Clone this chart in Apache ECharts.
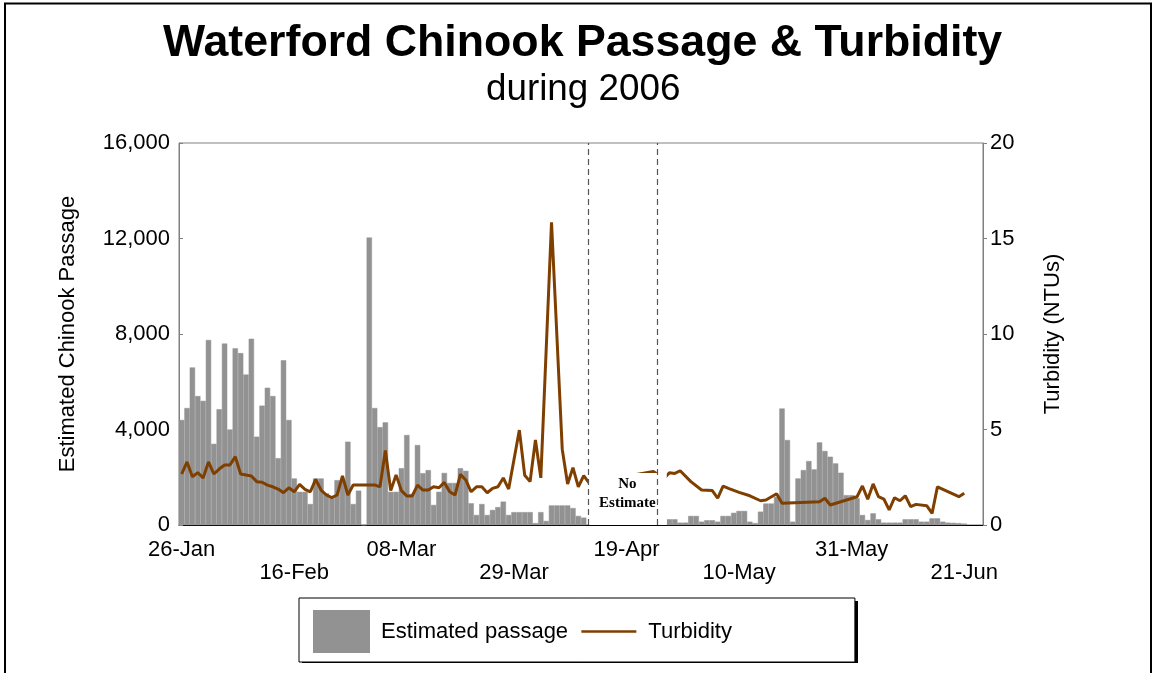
<!DOCTYPE html>
<html>
<head>
<meta charset="utf-8">
<script src="https://cdn.jsdelivr.net/npm/echarts@6/dist/echarts.min.js"></script>
<style>
    html, body { margin: 0; padding: 0; background: #fff; }
    #chart { width: 1156px; height: 673px; }
</style>
</head>
<body>
<div id="chart"></div>
<script>
var FONT = "'Liberation Sans', Arial, Helvetica, sans-serif";
var MONTHS = ["Jan", "Feb", "Mar", "Apr", "May", "Jun", "Jul", "Aug", "Sep", "Oct", "Nov", "Dec"];

// one category per day, 26-Jan-2006 .. 24-Jun-2006
var dayCount = 150;
var categories = [];
for (var i = 0; i < dayCount; i++) {
    var d = new Date(2006, 0, 26 + i);
    var dd = d.getDate();
    categories.push((dd < 10 ? "0" : "") + dd + "-" + MONTHS[d.getMonth()]);
}

var tickLabels = ["26-Jan", "16-Feb", "08-Mar", "29-Mar", "19-Apr", "10-May", "31-May", "21-Jun"];

// estimated chinook passage per day (null = no estimate)
var passage = [
    4400, 4900, 6600, 5400, 5200, 7750, 3400, 4850, 7600, 4000,
    7400, 7200, 6300, 7800, 3700, 5000, 5750, 5400, 2800, 6900,
    4400, 1950, 1390, 1390, 880, 1950, 1950, 1330, 1120, 1880,
    1880, 3490, 880, 1440, 0, 12040, 4900, 4100, 4300, 1390,
    1390, 2380, 3770, 1300, 3350, 2170, 2300, 840, 1390, 2180,
    1760, 1760, 2380, 2270, 910, 420, 880, 420, 630, 750,
    980, 420, 540, 540, 540, 540, 80, 540, 170, 820,
    820, 820, 820, 710, 380, 310, null, null, null, null,
    null, null, null, null, null, null, null, null, null, null,
    null, 240, 240, 100, 100, 380, 380, 140, 200, 200,
    140, 380, 380, 510, 590, 590, 140, 80, 560, 900,
    900, 1180, 4880, 3560, 140, 1950, 2300, 2680, 2330, 3460,
    3100, 2860, 2580, 2190, 1250, 1250, 1120, 420, 210, 490,
    240, 100, 100, 100, 100, 240, 240, 240, 140, 140,
    280, 280, 140, 100, 90, 80, 60, null, null, null
];

// turbidity (NTUs) per day (null = not measured)
var turbidity = [
    2.67, 3.3, 2.53, 2.74, 2.46, 3.3, 2.67, 2.93, 3.14, 3.14,
    3.58, 2.67, 2.62, 2.57, 2.27, 2.24, 2.09, 2.0, 1.88, 1.69,
    1.95, 1.74, 2.13, 1.87, 1.74, 2.39, 1.83, 1.57, 1.43, 1.57,
    2.57, 1.57, 2.09, null, null, null, 2.1, 2.0, 3.9, 1.8,
    2.62, 1.8, 1.52, 1.52, 2.09, 1.83, 1.83, 2.0, 1.95, 2.23,
    1.74, 1.57, 2.65, 2.36, 1.74, 2.0, 2.0, 1.69, 1.92, 2.0,
    2.46, 1.88, null, 4.97, 2.6, 2.27, 4.45, 2.47, null, 15.85,
    null, 3.97, 2.15, 3.0, 2.0, 2.58, 2.2, null, null, null,
    null, null, null, null, null, null, null, null, 2.8, null,
    2.44, 2.74, 2.7, 2.84, null, 2.27, null, 1.83, null, 1.8,
    1.4, 2.04, 1.92, null, 1.71, null, 1.53, null, 1.27, 1.31,
    null, 1.64, 1.14, null, null, null, null, null, null, 1.22,
    1.4, 1.05, null, null, null, null, 1.48, 2.04, 1.35, 2.15,
    1.48, 1.36, 0.79, 1.43, 1.27, 1.53, 0.96, 1.08, null, 1.01,
    0.61, 2.0, null, null, null, 1.48, 1.66, null, null, null
];

// no-estimate window, in day offsets from 26-Jan
var gapStart = 76.3;
var gapEnd = 89.2;
var gapBoxEnd = 91.0;
var gapBoxTop = 2180;

var chart = echarts.init(document.getElementById("chart"));

var option = {
    animation: false,
    textStyle: {
        fontFamily: FONT
    },
    title: [{
        text: "Waterford Chinook Passage & Turbidity",
        left: 163,
        top: 21,
        padding: 0,
        textStyle: {
            fontSize: 44.7,
            fontWeight: "bold",
            color: "#000",
            fontFamily: FONT
        }
    }, {
        text: "during 2006",
        left: 486,
        top: 71,
        padding: 0,
        textStyle: {
            fontSize: 36.8,
            fontWeight: "normal",
            color: "#000",
            fontFamily: FONT
        }
    }],
    legend: {
        left: 299,
        top: 598,
        padding: [12, 123, 9, 14],
        itemWidth: 55,
        itemHeight: 41,
        itemGap: 12,
        backgroundColor: "#fff",
        borderColor: "#000",
        borderWidth: 1,
        selectedMode: false,
        z: 4,
        textStyle: {
            fontSize: 22,
            color: "#000",
            fontFamily: FONT,
            padding: [0, 0, 0, 7]
        },
        data: [
            { name: "Estimated passage", icon: "rect" },
            {
                name: "Turbidity",
                icon: "line",
                itemStyle: { color: "#7f3f00", borderColor: "#7f3f00", borderWidth: 2.5 }
            }
        ]
    },
    grid: {
        left: 179,
        right: 173,
        top: 143,
        bottom: 148,
        show: true,
        borderColor: "#808080",
        borderWidth: 1
    },
    xAxis: [{
        type: "category",
        data: categories,
        boundaryGap: true,
        axisLine: { lineStyle: { color: "#000" } },
        axisTick: { show: false },
        splitLine: { show: false },
        axisLabel: {
            interval: function (index, value) {
                return tickLabels.indexOf(value) >= 0;
            },
            formatter: function (value) {
                return tickLabels.indexOf(value) % 2 == 1 ? "\n" + value : value;
            },
            fontSize: 22,
            lineHeight: 23,
            margin: 13,
            color: "#000",
            fontFamily: FONT
        }
    }, {
        type: "value",
        min: 0,
        max: dayCount,
        show: false
    }],
    yAxis: [{
        type: "value",
        min: 0,
        max: 16000,
        interval: 4000,
        name: "Estimated Chinook Passage",
        nameLocation: "middle",
        nameGap: 100,
        nameTextStyle: { fontSize: 22, color: "#000", fontFamily: FONT },
        axisLine: { show: true, lineStyle: { color: "#808080" } },
        axisTick: { show: true, inside: true, length: 4, lineStyle: { color: "#808080" } },
        splitLine: { show: false },
        axisLabel: {
            fontSize: 22,
            color: "#000",
            margin: 9,
            fontFamily: FONT,
            formatter: function (v) {
                return v.toLocaleString("en-US");
            }
        }
    }, {
        type: "value",
        min: 0,
        max: 20,
        interval: 5,
        position: "right",
        name: "Turbidity (NTUs)",
        nameLocation: "middle",
        nameGap: 59,
        nameTextStyle: { fontSize: 22, color: "#000", fontFamily: FONT },
        axisLine: { show: true, lineStyle: { color: "#808080" } },
        axisTick: { show: true, length: 4, lineStyle: { color: "#808080" } },
        splitLine: { show: false },
        axisLabel: {
            fontSize: 22,
            color: "#000",
            margin: 7,
            fontFamily: FONT
        }
    }],
    series: [{
        name: "Estimated passage",
        type: "bar",
        data: passage,
        barCategoryGap: "0%",
        itemStyle: { color: "#929292", borderColor: "#929292", borderWidth: 0.5 },
        z: 2
    }, {
        name: "Turbidity",
        type: "line",
        data: turbidity,
        yAxisIndex: 1,
        connectNulls: true,
        symbol: "none",
        lineStyle: { color: "#7f3f00", width: 3 },
        itemStyle: { color: "#7f3f00" },
        z: 3
    }, {
        type: "line",
        xAxisIndex: 1,
        yAxisIndex: 0,
        data: [],
        silent: true,
        z: 5,
        markArea: {
            silent: true,
            z: 10,
            itemStyle: { color: "#fff" },
            label: {
                show: true,
                position: "inside",
                offset: [0, -5],
                formatter: "No\nEstimate",
                fontFamily: "'Liberation Serif', 'Times New Roman', serif",
                fontWeight: "bold",
                fontSize: 15,
                lineHeight: 19,
                color: "#000"
            },
            data: [[
                { xAxis: gapStart, yAxis: 0 },
                { xAxis: gapBoxEnd, yAxis: gapBoxTop }
            ]]
        }
    }, {
        type: "line",
        xAxisIndex: 1,
        yAxisIndex: 0,
        data: [],
        silent: true,
        z: 6,
        markLine: {
            silent: true,
            z: 12,
            symbol: ["none", "none"],
            label: { show: false },
            lineStyle: { color: "#555", type: [6, 4], width: 1.2 },
            data: [{ xAxis: gapStart }, { xAxis: gapEnd }]
        }
    }],
    graphic: [{
        type: "rect",
        silent: true,
        z: 0,
        shape: { x: 5, y: 3.5, width: 1146, height: 700 },
        style: { fill: null, stroke: "#000", lineWidth: 2 }
    }, {
        // drop shadow behind the legend box
        type: "rect",
        silent: true,
        z: 1,
        shape: { x: 302, y: 601, width: 556, height: 62 },
        style: { fill: "#000" }
    }]
};

chart.setOption(option);
</script>
</body>
</html>
